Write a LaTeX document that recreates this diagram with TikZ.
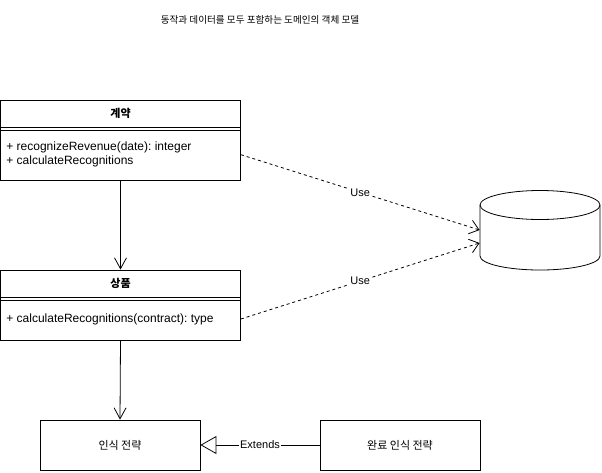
\documentclass[tikz,border=0pt]{standalone}
\usepackage{fontspec}
\setmainfont{Liberation Sans}
\newfontfamily\kr{Noto Sans CJK KR}
\usetikzlibrary{arrows.meta}
\frenchspacing

\begin{document}
\begin{tikzpicture}[x=1pt,y=-1pt,line width=0.8pt,
    umlbox/.style={draw,minimum width=240pt,inner sep=0pt},
    plainbox/.style={draw,minimum width=160pt,minimum height=50pt,font=\kr\fontsize{11}{12}\selectfont},
    ops/.style={anchor=west,align=left,inner sep=0pt,font=\fontsize{12}{14}\selectfont},
    uses/.style={dash pattern=on 3pt off 3pt,-{Straight Barb[length=9pt,width=14pt]}},
    lbl/.style={fill=white,inner sep=1pt,font=\fontsize{11}{12}\selectfont}]
    \useasboundingbox (0,0) rectangle (602,472);
    \node[font=\kr\fontsize{9.6}{11}\selectfont] (title) at (260,20) {동작과 데이터를 모두 포함하는 도메인의 객체 모델};
    % contract class
    \node[umlbox,minimum height=80pt] (contract) at (120.5,140) {};
    \node[font=\kr\bfseries\fontsize{11}{12}\selectfont] (contractname) at (120.5,113.5) {계약};
    \draw (0.5,127) -- (240.5,127) (0.5,130) -- (240.5,130);
    \node[ops] (contractops) at (6,154.7) {+ recognizeRevenue(date): integer\\+ calculateRecognitions};
    % product class
    \node[umlbox,minimum height=70pt] (product) at (120.5,305) {};
    \node[font=\kr\bfseries\fontsize{11}{12}\selectfont] (productname) at (120.5,283.5) {상품};
    \draw (0.5,297) -- (240.5,297) (0.5,300) -- (240.5,300);
    \node[ops] (productops) at (6,319) {+ calculateRecognitions(contract): type};
    % strategies
    \node[plainbox] (strategy) at (120,445) {인식 전략};
    \node[plainbox] (complete) at (400,445) {완료 인식 전략};
    % database
    \node[minimum width=120pt,minimum height=80pt] (db) at (540,230) {};
    \draw (540,205) ellipse [x radius=60pt,y radius=14.5pt];
    \draw (480,205) -- (480,256) arc [start angle=180,end angle=360,x radius=60pt,y radius=14pt] -- (600,205);
    % connectors
    \draw[-{Straight Barb[length=11pt,width=12pt]}] (contract.south) -- (product.north);
    \draw[-{Straight Barb[length=11pt,width=12pt]}] (product.south) -- (strategy.north);
    \draw[-{Triangle[open,length=16pt,width=18pt]}] (complete.west) -- node[lbl] {Extends} (strategy.east);
    \draw[uses] (contract.east |- contractops.center) -- node[lbl] {Use} (db.west);
    \draw[uses] (product.east |- productops.center) -- node[lbl] {Use} ([yshift=-13pt]db.west);
\end{tikzpicture}
\end{document}
